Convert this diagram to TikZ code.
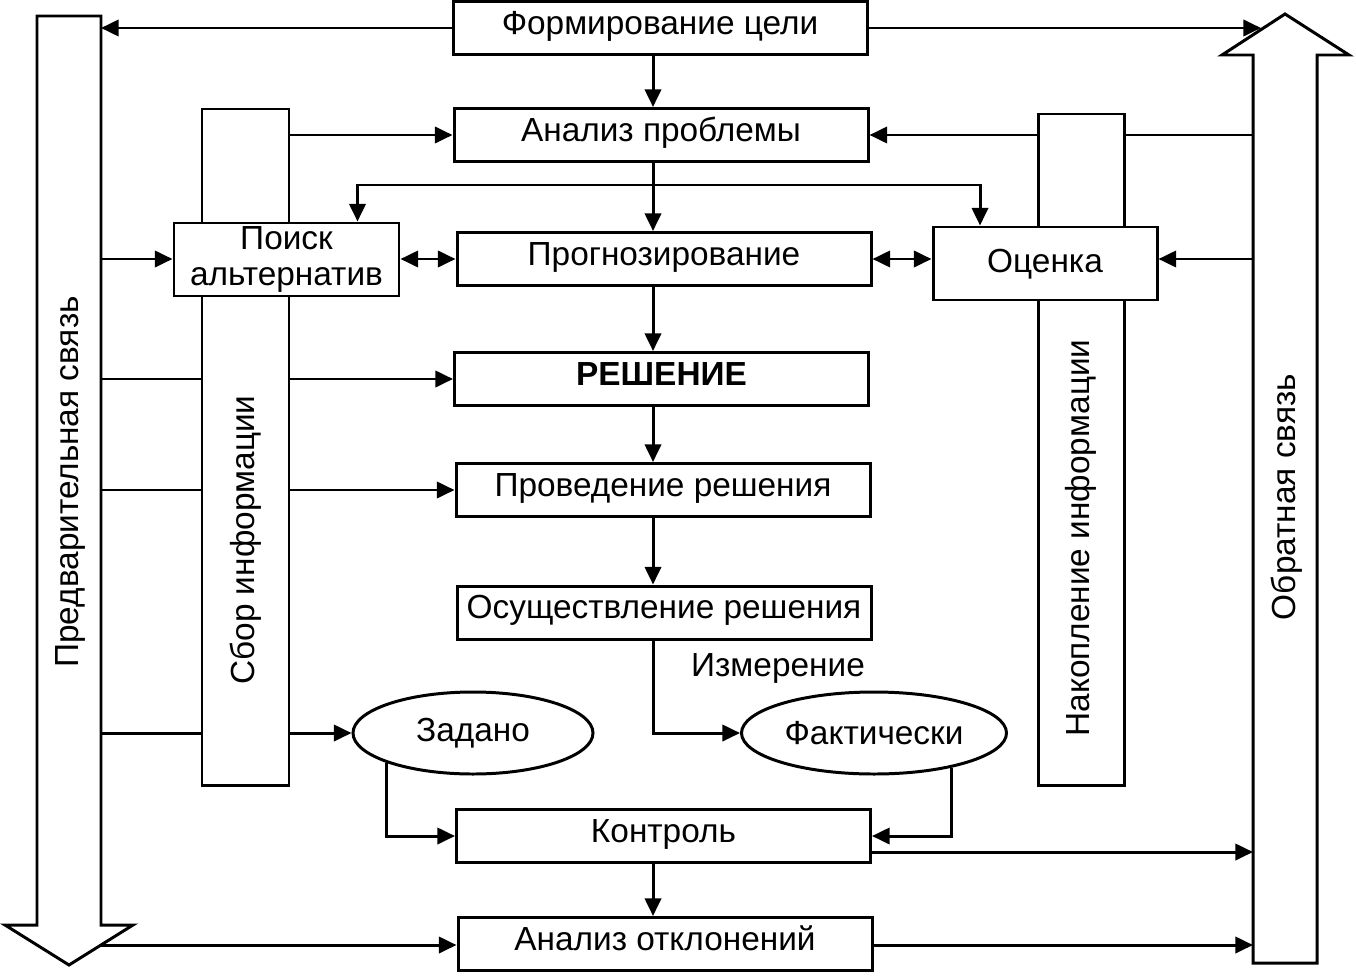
\documentclass[tikz,border=0pt]{standalone}
\usepackage{fontspec}
\setmainfont{Liberation Sans}
\usetikzlibrary{
        arrows.meta,
        positioning,
        shapes.geometric
    }
\tikzset{>={Triangle[length=5pt,width=4.6pt]}}
\tikzset{
  txt/.style={font=\fontsize{9.5}{9.6}\selectfont},
  blok/.style={txt,draw,rectangle,fill=white,inner sep=0pt,minimum width=41.4mm,minimum height=5.3mm,text height=0.8em,text depth=0.44em},
  stolb/.style={draw,rectangle,fill=white,minimum width=8.7mm},
  oval/.style={txt,draw,ellipse,fill=white,inner sep=0pt,minimum height=8.2mm},
  vtext/.style={txt,rotate=90}
}

\begin{document}
\begin{tikzpicture}[x=0.1mm,y=-0.1mm,line width=0.85pt]
\useasboundingbox (0,0) rectangle (1356,975);
% broad arrows
\draw (37,16) -- (101,16) -- (101,925) -- (133,925) -- (69,965) -- (5,925) -- (37,925) -- cycle;
\draw (1253,963) -- (1317,963) -- (1317,55) -- (1349,55) -- (1285,14) -- (1222,55) -- (1253,55) -- cycle;
\coordinate (L) at (101,0);
\coordinate (R) at (1253,0);
\coordinate (axis) at (653,0);
\coordinate (lhead) at (100,945);
\coordinate (rhead) at (1261,28);
\node[vtext] (fwd) at (70,482) {Предварительная связь};
\node[vtext] (back) at (1287,497) {Обратная связь};

% information columns
\node[stolb,minimum height=67.6mm] (gather) at (245.5,447) {};
\node[stolb,minimum height=67.1mm,minimum width=8.6mm] (accum) at (1081,449.5) {};
\node[vtext] (gathertext) at (246,540) {Сбор информации};
\node[vtext] (accumtext) at (1081,538) {Накопление информации};

% main chain
\node[blok] (goal) at (660,28) {Формирование цели};
\node[blok] (prob) at (661,135) {Анализ проблемы};
\node[draw,fill=white,align=center,inner sep=0pt,minimum width=22.5mm,minimum height=7.3mm,
      font=\fontsize{9.5}{10.2}\selectfont] (alt) at (286.5,259.5) {Поиск\\альтернатив};
\node[blok] (prog) at (664,259) {Прогнозирование};
\node[blok,text depth=0.3em,minimum width=22.4mm,minimum height=7.3mm] (eval) at (1045,263.5) {Оценка};
\node[blok,font=\fontsize{9.5}{9.6}\selectfont\bfseries] (dec) at (661.5,379) {РЕШЕНИЕ};
\node[blok] (cond) at (663,490) {Проведение решения};
\node[blok] (impl) at (664,612.5) {Осуществление решения};
\node[oval,minimum width=24mm] (given) at (473,733) {Задано};
\node[oval,minimum width=26.5mm] (fact) at (874,733) {Фактически};
\node[txt] (meas) at (778,668) {Измерение};
\node[blok] (ctrl) at (663.5,836) {Контроль};
\node[blok] (dev) at (665,944) {Анализ отклонений};

% connectors
\draw[->] (goal.west) -- (L |- goal.west);
\draw[->] (goal.east) -- (rhead);
\draw[->] (goal.south -| axis) -- (prob.north -| axis);
\draw[->] (gather.east |- prob.west) -- (prob.west);
\draw (R |- prob.east) -- (accum.east |- prob.east);
\draw[->] (accum.west |- prob.east) -- (prob.east);
\draw[->] (prob.south -| axis) -- (prog.north -| axis);
\coordinate (fork) at (axis |- 0,185);
\draw[->] (fork) -| ([xshift=7.1mm]alt.north);
\draw[->] (fork) -| ([xshift=-6.5mm]eval.north);
\draw[->] (L |- prog.west) -- (alt.west |- prog.west);
\draw[<->] (alt.east |- prog.west) -- (prog.west);
\draw[<->] (prog.east) -- (eval.west |- prog.east);
\draw[->] (R |- prog.east) -- (eval.east |- prog.east);
\draw[->] (prog.south -| axis) -- (dec.north -| axis);
\draw (L |- dec.west) -- (gather.west |- dec.west);
\draw[->] (gather.east |- dec.west) -- (dec.west);
\draw (L |- cond.west) -- (gather.west |- cond.west);
\draw[->] (gather.east |- cond.west) -- (cond.west);
\draw[->] (dec.south -| axis) -- (cond.north -| axis);
\draw[->] (cond.south -| axis) -- (impl.north -| axis);
\draw[->] (impl.south -| axis) |- (fact.west);
\draw (L |- given.west) -- (gather.west |- given.west);
\draw[->] (gather.east |- given.west) -- (given.west);
\draw[->] (given.199) |- (ctrl.west);
\draw[->] (fact.336) |- (ctrl.east);
\draw[->] ([yshift=-1.6mm]ctrl.east) -- ([yshift=-1.6mm]ctrl.east -| R);
\draw[->] (ctrl.south -| axis) -- (dev.north -| axis);
\draw[->] (lhead) -- (dev.west |- lhead);
\draw[->] (dev.east |- lhead) -- (R |- lhead);
\end{tikzpicture}
\end{document}
